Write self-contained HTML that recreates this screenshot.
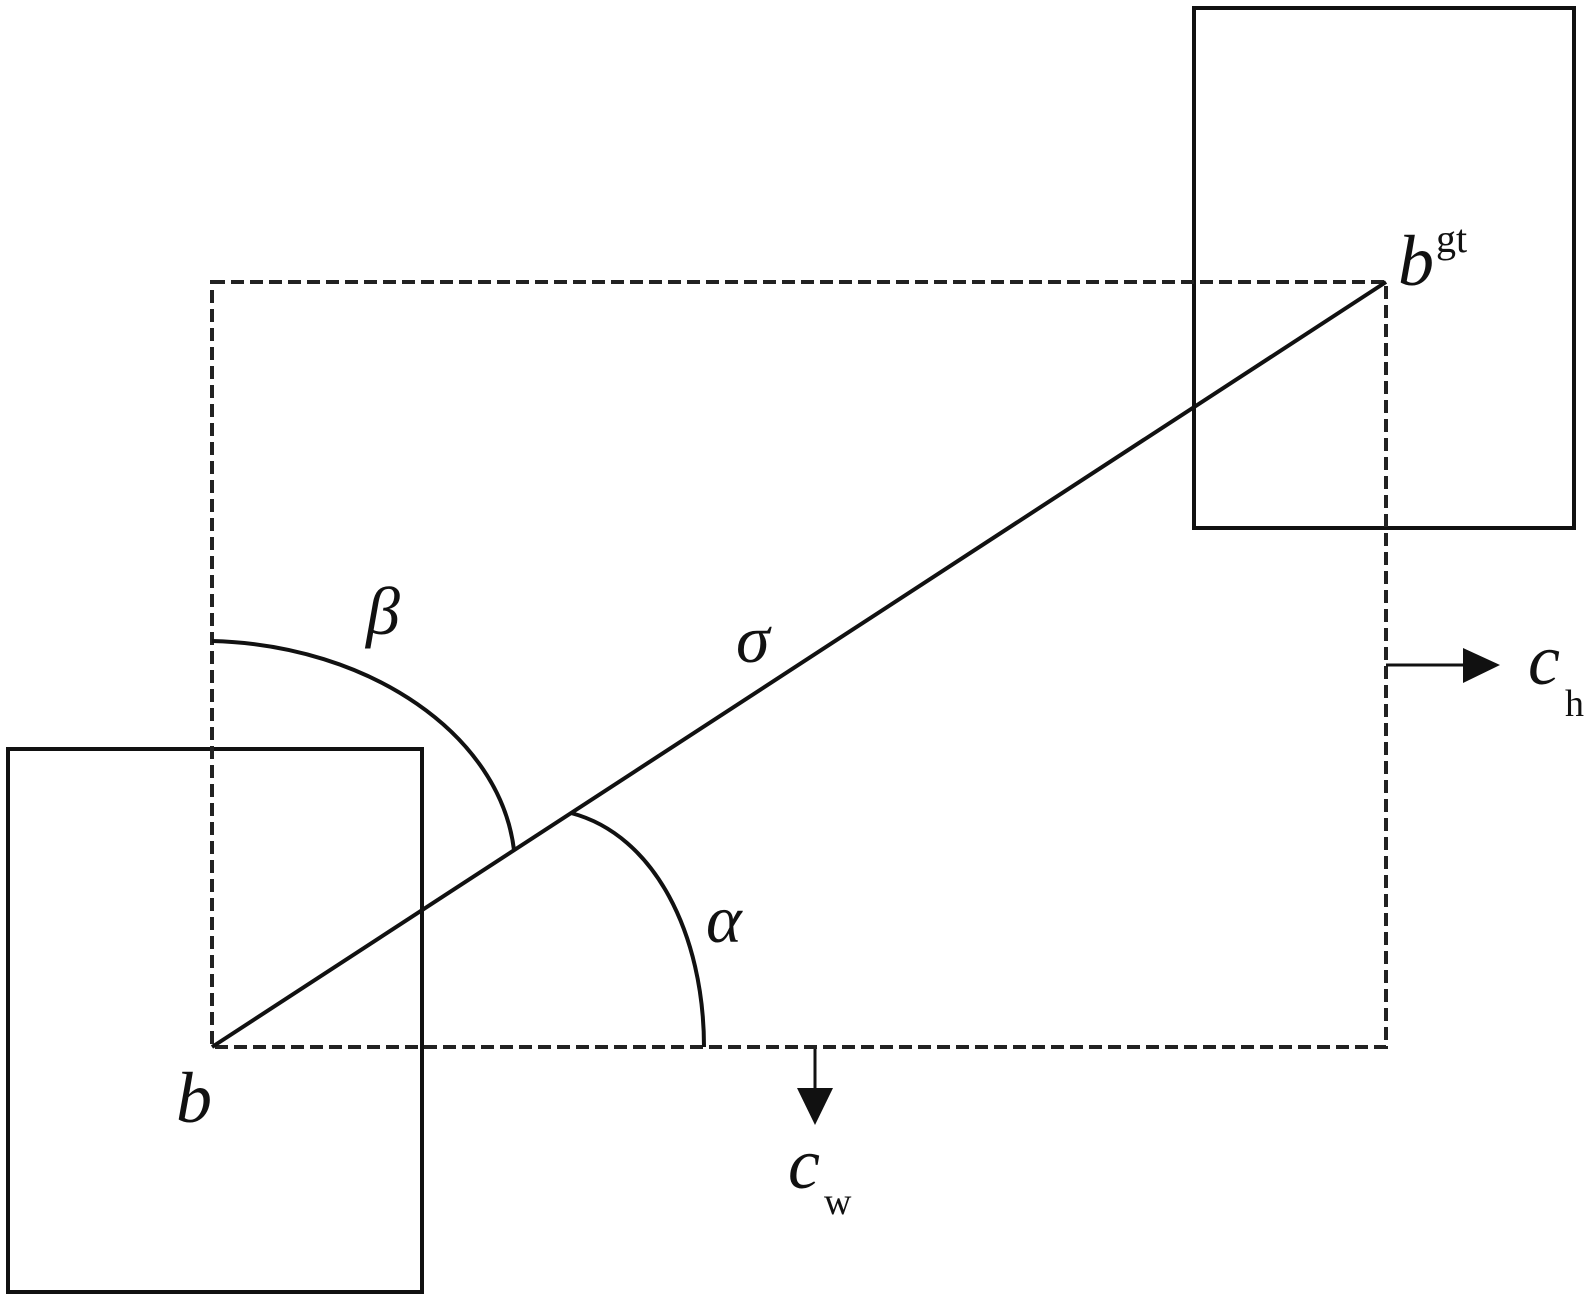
<!DOCTYPE html>
<html><head><meta charset="utf-8"><style>
html,body{margin:0;padding:0;background:#fff}
svg{display:block}
text{font-family:"Liberation Serif",serif;font-style:italic;fill:#111}
.up{font-style:normal}
</style></head><body>
<svg width="1595" height="1299" viewBox="0 0 1595 1299" xmlns="http://www.w3.org/2000/svg">
<g fill="none" stroke="#111" stroke-width="4">
<rect x="8" y="749" width="414" height="543"/>
<rect x="1194" y="8" width="380" height="520"/>
</g>
<rect x="212" y="282" width="1174" height="765" fill="none" stroke="#222" stroke-width="4" stroke-dasharray="13,6"/>
<g fill="none" stroke="#111" stroke-width="4">
<line x1="212" y1="1047" x2="1386" y2="282"/>
<path d="M212,641 C370,645 500,735 514,850"/>
<path d="M571,813 C655,835 704,935 704,1047"/>
<line x1="1386" y1="665" x2="1470" y2="665" stroke-width="3"/>
<line x1="815" y1="1049" x2="815" y2="1092" stroke-width="3"/>
</g>
<polygon points="1463,648 1500,665 1463,683" fill="#111"/>
<polygon points="797,1088 833,1088 815,1125" fill="#111"/>
<text x="176" y="1122" font-size="72">b</text>
<text x="1398" y="285" font-size="72">b</text>
<text x="1436" y="252" font-size="40" class="up">gt</text>
<text x="366" y="634" font-size="68">β</text>
<text x="736" y="662" font-size="68">σ</text>
<text x="706" y="942" font-size="68">α</text>
<text x="1528" y="684" font-size="72">c</text>
<text x="1565" y="716" font-size="38" class="up">h</text>
<text x="788" y="1188" font-size="72">c</text>
<text x="824" y="1214" font-size="38" class="up">w</text>
</svg>
</body></html>
